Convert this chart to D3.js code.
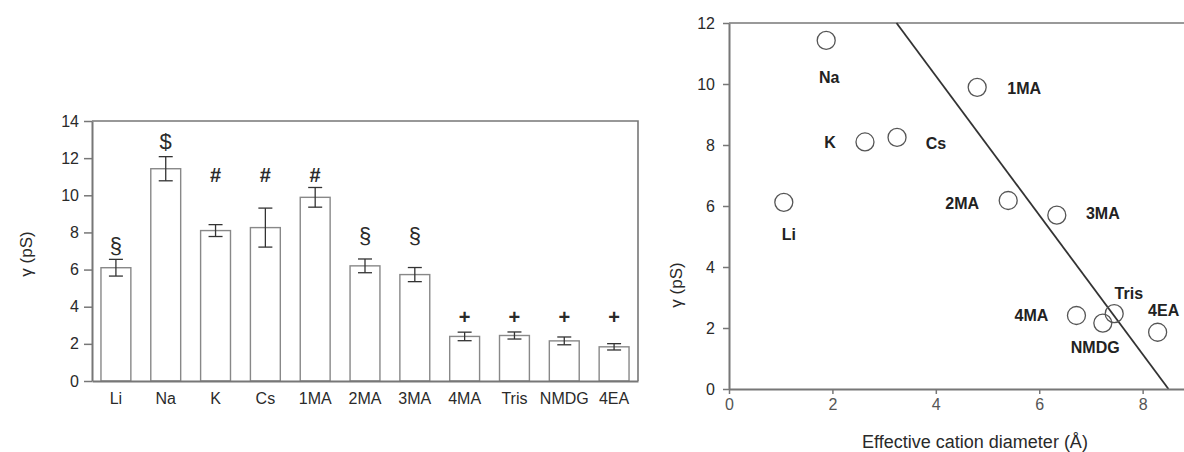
<!DOCTYPE html>
<html>
<head>
<meta charset="utf-8">
<script src="https://cdn.jsdelivr.net/npm/d3@7"></script>
<style>
  body { margin: 0; background: #fff; }
  svg { display: block; font-family: "Liberation Sans", Arial, sans-serif; }
</style>
</head>
<body>
<svg id="chart" width="1184" height="452"></svg>
<script>
// left panel: single-channel conductance per cation
const cations = ["Li", "Na", "K", "Cs", "1MA", "2MA", "3MA", "4MA", "Tris", "NMDG", "4EA"];
const gamma = [6.1, 11.43, 8.1, 8.26, 9.89, 6.2, 5.73, 2.4, 2.45, 2.16, 1.84];
const gammaErr = [0.45, 0.65, 0.32, 1.05, 0.53, 0.37, 0.38, 0.23, 0.19, 0.21, 0.17];
const sigMarks = ["§", "$", "#", "#", "#", "§", "§", "+", "+", "+", "+"];
const sigMarkY = [7.3, 12.87, 11.07, 11.07, 11.07, 7.85, 7.85, 3.46, 3.46, 3.46, 3.46];
const leftYTicks = [0, 2, 4, 6, 8, 10, 12, 14];

// right panel: conductance vs effective cation diameter
const diameter = [1.06, 1.88, 2.63, 3.25, 4.8, 5.4, 6.34, 6.72, 7.23, 7.45, 8.29];
const gammaScatter = [6.12, 11.43, 8.1, 8.25, 9.89, 6.18, 5.7, 2.41, 2.16, 2.47, 1.86];
const fitX = [3.24, 8.5];
const fitY = [12, 0];
const rightXTicks = [0, 2, 4, 6, 8];
const rightYTicks = [0, 2, 4, 6, 8, 10, 12];

// label placement around each circle (px)
const labelOffsets = {
  Li: [5, 32], Na: [3, 37], K: [-35, 1], Cs: [39, 6], "1MA": [47, 1], "2MA": [-46, 3],
  "3MA": [46, -2], "4MA": [-45, 0], NMDG: [-19, 34], Tris: [26, -30], "4EA": [6, -22]
};

const svg = d3.select("#chart");
const axisGray = "#777";
const textCol = "#2a2a2a";

// ---------- left bar chart ----------
const L = { left: 92, right: 638, top: 121, bottom: 381 };
const xL = d3.scaleBand().domain(cations).range([L.left, L.right]).paddingInner(0.4).paddingOuter(0.18);
const yL = d3.scaleLinear().domain([0, 14]).range([L.bottom, L.top]);
const mid = d => xL(d) + xL.bandwidth() / 2;

const gl = svg.append("g");

gl.selectAll("rect.bar").data(cations).join("rect")
  .attr("class", "bar")
  .attr("x", d => xL(d))
  .attr("y", (d, i) => yL(gamma[i]))
  .attr("width", xL.bandwidth())
  .attr("height", (d, i) => yL(0) - yL(gamma[i]))
  .attr("fill", "#fff")
  .attr("stroke", "#888")
  .attr("stroke-width", 1.4);

const eb = gl.selectAll("g.err").data(cations).join("g").attr("class", "err")
  .attr("stroke", "#333").attr("stroke-width", 1.3);
eb.append("line")
  .attr("x1", mid).attr("x2", mid)
  .attr("y1", (d, i) => yL(gamma[i] + gammaErr[i])).attr("y2", (d, i) => yL(gamma[i] - gammaErr[i]));
eb.append("line")
  .attr("x1", d => mid(d) - 7).attr("x2", d => mid(d) + 7)
  .attr("y1", (d, i) => yL(gamma[i] + gammaErr[i])).attr("y2", (d, i) => yL(gamma[i] + gammaErr[i]));
eb.append("line")
  .attr("x1", d => mid(d) - 7).attr("x2", d => mid(d) + 7)
  .attr("y1", (d, i) => yL(gamma[i] - gammaErr[i])).attr("y2", (d, i) => yL(gamma[i] - gammaErr[i]));

gl.selectAll("text.sig").data(cations).join("text")
  .attr("class", "sig")
  .attr("x", mid)
  .attr("y", (d, i) => yL(sigMarkY[i]))
  .attr("text-anchor", "middle")
  .attr("dominant-baseline", "central")
  .attr("font-size", (d, i) => sigMarks[i] === "+" || sigMarks[i] === "#" ? 20 : 22)
  .attr("font-weight", (d, i) => sigMarks[i] === "+" || sigMarks[i] === "#" ? "bold" : "normal")
  .attr("fill", textCol)
  .text((d, i) => sigMarks[i]);

// frame (top + right)
gl.append("path")
  .attr("d", `M${L.left},${L.top}H${L.right}V${L.bottom}`)
  .attr("fill", "none").attr("stroke", axisGray).attr("stroke-width", 1.6);

const yAxisL = gl.append("g").attr("transform", `translate(${L.left},0)`)
  .call(d3.axisLeft(yL).tickValues(leftYTicks).tickSize(8).tickPadding(5).tickSizeOuter(0));
const xAxisL = gl.append("g").attr("transform", `translate(0,${L.bottom})`)
  .call(d3.axisBottom(xL).tickSize(0).tickPadding(12).tickSizeOuter(0));

gl.append("text")
  .attr("transform", `translate(26,254) rotate(-90)`)
  .attr("text-anchor", "middle").attr("dominant-baseline", "central")
  .attr("font-size", 17).attr("fill", textCol)
  .text("γ (pS)");

// ---------- right scatter ----------
const R = { left: 729, right: 1184, top: 23, bottom: 389 };
const xR = d3.scaleLinear().domain([0, 8.8]).range([R.left, R.right]);
const yR = d3.scaleLinear().domain([0, 12]).range([R.bottom, R.top]);

const gr = svg.append("g");

gr.append("line")
  .attr("x1", R.left).attr("x2", R.right).attr("y1", R.top).attr("y2", R.top)
  .attr("stroke", axisGray).attr("stroke-width", 1.6);

gr.append("path")
  .datum(d3.zip(fitX, fitY))
  .attr("d", d3.line().x(d => xR(d[0])).y(d => yR(d[1])))
  .attr("fill", "none").attr("stroke", "#333").attr("stroke-width", 1.8);

gr.selectAll("circle").data(cations).join("circle")
  .attr("cx", (d, i) => xR(diameter[i]))
  .attr("cy", (d, i) => yR(gammaScatter[i]))
  .attr("r", 9)
  .attr("fill", "none")
  .attr("stroke", "#555")
  .attr("stroke-width", 1.3);

gr.selectAll("text.lbl").data(cations).join("text")
  .attr("class", "lbl")
  .attr("x", (d, i) => xR(diameter[i]) + labelOffsets[d][0])
  .attr("y", (d, i) => yR(gammaScatter[i]) + labelOffsets[d][1])
  .attr("text-anchor", "middle").attr("dominant-baseline", "central")
  .attr("font-size", 16).attr("font-weight", "bold").attr("fill", "#222")
  .text(d => d);

const yAxisR = gr.append("g").attr("transform", `translate(${R.left},0)`)
  .call(d3.axisLeft(yR).tickValues(rightYTicks).tickSize(6).tickPadding(8).tickSizeOuter(0));
const xAxisR = gr.append("g").attr("transform", `translate(0,${R.bottom})`)
  .call(d3.axisBottom(xR).tickValues(rightXTicks).tickSize(5).tickPadding(5).tickSizeOuter(0));

gr.append("text")
  .attr("transform", `translate(676,285) rotate(-90)`)
  .attr("text-anchor", "middle").attr("dominant-baseline", "central")
  .attr("font-size", 17).attr("fill", textCol)
  .text("γ (pS)");

gr.append("text")
  .attr("x", 975).attr("y", 442)
  .attr("text-anchor", "middle").attr("dominant-baseline", "central")
  .attr("font-size", 18).attr("fill", textCol)
  .text("Effective cation diameter (Å)");

// shared axis styling
[yAxisL, xAxisL, yAxisR, xAxisR].forEach(a => {
  a.select(".domain").attr("stroke", axisGray).attr("stroke-width", 2);
  a.selectAll(".tick line").attr("stroke", axisGray).attr("stroke-width", 1.5);
  a.selectAll(".tick text").attr("font-size", 16).attr("fill", textCol)
    .attr("font-family", "Liberation Sans, Arial, sans-serif");
});
xAxisR.selectAll(".tick text").attr("fill", "#555");
</script>
</body>
</html>
